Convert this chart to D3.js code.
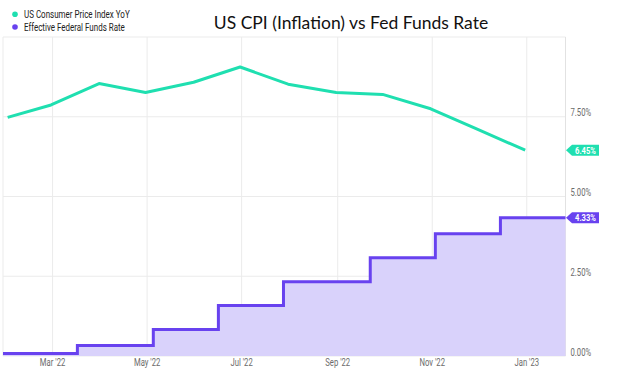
<!DOCTYPE html>
<html>
<head>
<meta charset="utf-8">
<script src="https://cdn.jsdelivr.net/npm/d3@7"></script>
<style>
  body { margin: 0; background: #fff; }
  svg { display: block; }
</style>
</head>
<body>
<div id="chart"></div>
<script>
// CPI YoY, monthly (plotted at month end)
const cpiDates = ["2022-01-31", "2022-02-28", "2022-03-31", "2022-04-30", "2022-05-31", "2022-06-30",
                  "2022-07-31", "2022-08-31", "2022-09-30", "2022-10-31", "2022-11-30", "2022-12-31"];
const cpiValues = [7.48, 7.87, 8.54, 8.26, 8.58, 9.06, 8.52, 8.26, 8.20, 7.75, 7.11, 6.45];

// Effective fed funds rate, step changes
const ffDates = ["2022-01-28", "2022-03-17", "2022-05-05", "2022-06-16", "2022-07-28",
                 "2022-09-22", "2022-11-03", "2022-12-15", "2023-01-26"];
const ffValues = [0.08, 0.33, 0.83, 1.58, 2.33, 3.08, 3.83, 4.33, 4.33];

const xTickDates = ["2022-03-01", "2022-05-01", "2022-07-01", "2022-09-01", "2022-11-01", "2023-01-01"];
const yTicks = [0, 2.5, 5, 7.5];

const seriesNames = ["US Consumer Price Index YoY", "Effective Federal Funds Rate"];
const title = "US CPI (Inflation) vs Fed Funds Rate";

const width = 624, height = 376;
const plot = { left: 3, right: 565.5, top: 37, bottom: 356 };
const cpiColor = "#1fdfb0";
const ffColor = "#6842ef";
const ffFill = "#d9d2fb";
const gridColor = "#ebebeb";

const parse = d3.utcParse("%Y-%m-%d");
const cpi = cpiDates.map((d, i) => ({ date: parse(d), value: cpiValues[i] }));
const ff = ffDates.map((d, i) => ({ date: parse(d), value: ffValues[i] }));

const x = d3.scaleUtc()
  .domain([ff[0].date, ff[ff.length - 1].date])
  .range([plot.left, plot.right]);
const y = d3.scaleLinear().domain([0, 10]).range([plot.bottom, plot.top]);

const svg = d3.select("#chart").append("svg")
  .attr("width", width)
  .attr("height", height);

// squeeze text horizontally to mimic the condensed face
function squeeze(sel, k) {
  sel.each(function () {
    const w = this.getComputedTextLength();
    d3.select(this).attr("textLength", w * k).attr("lengthAdjust", "spacingAndGlyphs");
  });
}

// gridlines
svg.append("g")
  .selectAll("line")
  .data(yTicks.concat([10]))
  .join("line")
  .attr("x1", plot.left).attr("x2", plot.right)
  .attr("y1", (d) => y(d)).attr("y2", (d) => y(d))
  .attr("stroke", gridColor).attr("stroke-width", 1);

svg.append("g")
  .selectAll("line")
  .data(xTickDates.map(parse))
  .join("line")
  .attr("x1", (d) => x(d)).attr("x2", (d) => x(d))
  .attr("y1", plot.top).attr("y2", plot.bottom)
  .attr("stroke", gridColor).attr("stroke-width", 1);

// frame sides
svg.append("line")
  .attr("x1", plot.left).attr("x2", plot.left)
  .attr("y1", plot.top).attr("y2", plot.bottom)
  .attr("stroke", gridColor);
svg.append("line")
  .attr("x1", plot.right).attr("x2", plot.right)
  .attr("y1", plot.top).attr("y2", plot.bottom)
  .attr("stroke", "#e2e2e2");

// fed funds area + step line
const area = d3.area()
  .x((d) => x(d.date))
  .y0(y(0))
  .y1((d) => y(d.value))
  .curve(d3.curveStepAfter);

svg.append("path")
  .datum(ff)
  .attr("d", area)
  .attr("fill", ffFill);

const stepLine = d3.line()
  .x((d) => x(d.date))
  .y((d) => y(d.value))
  .curve(d3.curveStepAfter);

svg.append("path")
  .datum(ff)
  .attr("d", stepLine)
  .attr("fill", "none")
  .attr("stroke", ffColor)
  .attr("stroke-width", 3);

// CPI line
const line = d3.line()
  .x((d) => x(d.date))
  .y((d) => y(d.value));

svg.append("path")
  .datum(cpi)
  .attr("d", line)
  .attr("fill", "none")
  .attr("stroke", cpiColor)
  .attr("stroke-width", 3)
  .attr("stroke-linejoin", "round");

// y axis labels (right side)
const yLabels = svg.append("g")
  .selectAll("text")
  .data(yTicks)
  .join("text")
  .attr("x", plot.right + 5)
  .attr("y", (d) => y(d) - 0.5)
  .attr("font-family", "Roboto, sans-serif")
  .attr("font-size", 10)
  .attr("fill", "#6b6b6b")
  .text((d) => d3.format(".2f")(d) + "%");
squeeze(yLabels, 0.77);

// x axis labels
const fmt = d3.utcFormat("%b '%y");
const xLabels = svg.append("g")
  .selectAll("text")
  .data(xTickDates.map(parse))
  .join("text")
  .attr("x", (d) => x(d))
  .attr("y", 366)
  .attr("text-anchor", "middle")
  .attr("font-family", "Roboto, sans-serif")
  .attr("font-size", 10)
  .attr("fill", "#6b6b6b")
  .text((d) => fmt(d));
squeeze(xLabels, 0.77);

// last-value badges
const badges = [
  { value: cpiValues[cpiValues.length - 1], color: cpiColor },
  { value: ffValues[ffValues.length - 1], color: ffColor },
];
badges.forEach((b) => {
  const cy = y(b.value);
  const x0 = plot.right + 0.5;
  svg.append("path")
    .attr("d", `M${x0},${cy} L${x0 + 6},${cy - 5.5} L${x0 + 33},${cy - 5.5} L${x0 + 33},${cy + 5.5} L${x0 + 6},${cy + 5.5} Z`)
    .attr("fill", b.color);
  const t = svg.append("text")
    .attr("x", x0 + 19.5)
    .attr("y", cy + 3.5)
    .attr("text-anchor", "middle")
    .attr("font-family", "Roboto, sans-serif")
    .attr("font-size", 9.5)
    .attr("font-weight", "bold")
    .attr("fill", "#fff")
    .text(d3.format(".2f")(b.value) + "%");
  squeeze(t, 0.8);
});

// legend
const legend = svg.append("g");
[cpiColor, ffColor].forEach((c, i) => {
  legend.append("circle")
    .attr("cx", 15).attr("cy", 14.3 + i * 12.7).attr("r", 2.8)
    .attr("fill", c);
  const t = legend.append("text")
    .attr("x", 24).attr("y", 17.8 + i * 12.7)
    .attr("font-family", "Roboto, sans-serif")
    .attr("font-size", 10.5)
    .attr("fill", "#222")
    .text(seriesNames[i]);
  squeeze(t, 0.76);
});

// title
svg.append("text")
  .attr("x", 351)
  .attr("y", 28.5)
  .attr("text-anchor", "middle")
  .attr("font-family", "Lato, sans-serif")
  .attr("font-size", 17.5)
  .attr("fill", "#111")
  .text(title);
</script>
</body>
</html>
